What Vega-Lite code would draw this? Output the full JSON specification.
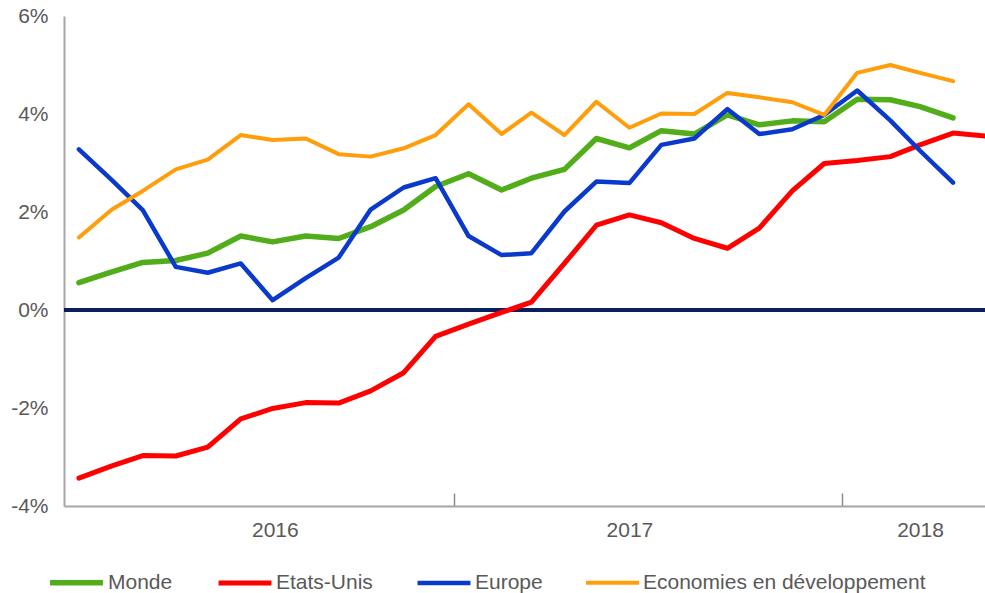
{
  "$schema": "https://vega.github.io/schema/vega-lite/v6.json",
  "width": 921,
  "height": 490,
  "autosize": {"type": "none"},
  "padding": {"left": 64, "top": 16, "right": 0, "bottom": 87},
  "config": {"view": {"stroke": null}, "font": "Liberation Sans"},
  "data": {
    "values": [
      {"date": "2016/01/15", "series": "Monde", "value": 0.56},
      {"date": "2016/02/15", "series": "Monde", "value": 0.78},
      {"date": "2016/03/15", "series": "Monde", "value": 0.97},
      {"date": "2016/04/15", "series": "Monde", "value": 1.01},
      {"date": "2016/05/15", "series": "Monde", "value": 1.16},
      {"date": "2016/06/15", "series": "Monde", "value": 1.51},
      {"date": "2016/07/15", "series": "Monde", "value": 1.39},
      {"date": "2016/08/15", "series": "Monde", "value": 1.51},
      {"date": "2016/09/15", "series": "Monde", "value": 1.46},
      {"date": "2016/10/15", "series": "Monde", "value": 1.70},
      {"date": "2016/11/15", "series": "Monde", "value": 2.04},
      {"date": "2016/12/15", "series": "Monde", "value": 2.52},
      {"date": "2017/01/15", "series": "Monde", "value": 2.78},
      {"date": "2017/02/15", "series": "Monde", "value": 2.45},
      {"date": "2017/03/15", "series": "Monde", "value": 2.69},
      {"date": "2017/04/15", "series": "Monde", "value": 2.87},
      {"date": "2017/05/15", "series": "Monde", "value": 3.50},
      {"date": "2017/06/15", "series": "Monde", "value": 3.31},
      {"date": "2017/07/15", "series": "Monde", "value": 3.66},
      {"date": "2017/08/15", "series": "Monde", "value": 3.59},
      {"date": "2017/09/15", "series": "Monde", "value": 3.98},
      {"date": "2017/10/15", "series": "Monde", "value": 3.78},
      {"date": "2017/11/15", "series": "Monde", "value": 3.86},
      {"date": "2017/12/15", "series": "Monde", "value": 3.84},
      {"date": "2018/01/15", "series": "Monde", "value": 4.30},
      {"date": "2018/02/15", "series": "Monde", "value": 4.29},
      {"date": "2018/03/15", "series": "Monde", "value": 4.15},
      {"date": "2018/04/15", "series": "Monde", "value": 3.92},
      {"date": "2016/01/15", "series": "Etats-Unis", "value": -3.43},
      {"date": "2016/02/15", "series": "Etats-Unis", "value": -3.18},
      {"date": "2016/03/15", "series": "Etats-Unis", "value": -2.97},
      {"date": "2016/04/15", "series": "Etats-Unis", "value": -2.98},
      {"date": "2016/05/15", "series": "Etats-Unis", "value": -2.80},
      {"date": "2016/06/15", "series": "Etats-Unis", "value": -2.22},
      {"date": "2016/07/15", "series": "Etats-Unis", "value": -2.01},
      {"date": "2016/08/15", "series": "Etats-Unis", "value": -1.89},
      {"date": "2016/09/15", "series": "Etats-Unis", "value": -1.90},
      {"date": "2016/10/15", "series": "Etats-Unis", "value": -1.65},
      {"date": "2016/11/15", "series": "Etats-Unis", "value": -1.28},
      {"date": "2016/12/15", "series": "Etats-Unis", "value": -0.54},
      {"date": "2017/01/15", "series": "Etats-Unis", "value": -0.29},
      {"date": "2017/02/15", "series": "Etats-Unis", "value": -0.05},
      {"date": "2017/03/15", "series": "Etats-Unis", "value": 0.16},
      {"date": "2017/04/15", "series": "Etats-Unis", "value": 0.95},
      {"date": "2017/05/15", "series": "Etats-Unis", "value": 1.73},
      {"date": "2017/06/15", "series": "Etats-Unis", "value": 1.94},
      {"date": "2017/07/15", "series": "Etats-Unis", "value": 1.78},
      {"date": "2017/08/15", "series": "Etats-Unis", "value": 1.46},
      {"date": "2017/09/15", "series": "Etats-Unis", "value": 1.26},
      {"date": "2017/10/15", "series": "Etats-Unis", "value": 1.67},
      {"date": "2017/11/15", "series": "Etats-Unis", "value": 2.43},
      {"date": "2017/12/15", "series": "Etats-Unis", "value": 2.99},
      {"date": "2018/01/15", "series": "Etats-Unis", "value": 3.05},
      {"date": "2018/02/15", "series": "Etats-Unis", "value": 3.13},
      {"date": "2018/03/15", "series": "Etats-Unis", "value": 3.37},
      {"date": "2018/04/15", "series": "Etats-Unis", "value": 3.61},
      {"date": "2018/05/15", "series": "Etats-Unis", "value": 3.55},
      {"date": "2016/01/15", "series": "Europe", "value": 3.28},
      {"date": "2016/02/15", "series": "Europe", "value": 2.65},
      {"date": "2016/03/15", "series": "Europe", "value": 2.04},
      {"date": "2016/04/15", "series": "Europe", "value": 0.88},
      {"date": "2016/05/15", "series": "Europe", "value": 0.76},
      {"date": "2016/06/15", "series": "Europe", "value": 0.95},
      {"date": "2016/07/15", "series": "Europe", "value": 0.20},
      {"date": "2016/08/15", "series": "Europe", "value": 0.65},
      {"date": "2016/09/15", "series": "Europe", "value": 1.07},
      {"date": "2016/10/15", "series": "Europe", "value": 2.05},
      {"date": "2016/11/15", "series": "Europe", "value": 2.50},
      {"date": "2016/12/15", "series": "Europe", "value": 2.69},
      {"date": "2017/01/15", "series": "Europe", "value": 1.51},
      {"date": "2017/02/15", "series": "Europe", "value": 1.12},
      {"date": "2017/03/15", "series": "Europe", "value": 1.16},
      {"date": "2017/04/15", "series": "Europe", "value": 2.01},
      {"date": "2017/05/15", "series": "Europe", "value": 2.62},
      {"date": "2017/06/15", "series": "Europe", "value": 2.59},
      {"date": "2017/07/15", "series": "Europe", "value": 3.37},
      {"date": "2017/08/15", "series": "Europe", "value": 3.50},
      {"date": "2017/09/15", "series": "Europe", "value": 4.10},
      {"date": "2017/10/15", "series": "Europe", "value": 3.59},
      {"date": "2017/11/15", "series": "Europe", "value": 3.69},
      {"date": "2017/12/15", "series": "Europe", "value": 3.98},
      {"date": "2018/01/15", "series": "Europe", "value": 4.48},
      {"date": "2018/02/15", "series": "Europe", "value": 3.87},
      {"date": "2018/03/15", "series": "Europe", "value": 3.25},
      {"date": "2018/04/15", "series": "Europe", "value": 2.60},
      {"date": "2016/01/15", "series": "Economies en développement", "value": 1.48},
      {"date": "2016/02/15", "series": "Economies en développement", "value": 2.05},
      {"date": "2016/03/15", "series": "Economies en développement", "value": 2.43},
      {"date": "2016/04/15", "series": "Economies en développement", "value": 2.87},
      {"date": "2016/05/15", "series": "Economies en développement", "value": 3.07},
      {"date": "2016/06/15", "series": "Economies en développement", "value": 3.57},
      {"date": "2016/07/15", "series": "Economies en développement", "value": 3.47},
      {"date": "2016/08/15", "series": "Economies en développement", "value": 3.50},
      {"date": "2016/09/15", "series": "Economies en développement", "value": 3.18},
      {"date": "2016/10/15", "series": "Economies en développement", "value": 3.13},
      {"date": "2016/11/15", "series": "Economies en développement", "value": 3.30},
      {"date": "2016/12/15", "series": "Economies en développement", "value": 3.57},
      {"date": "2017/01/15", "series": "Economies en développement", "value": 4.20},
      {"date": "2017/02/15", "series": "Economies en développement", "value": 3.59},
      {"date": "2017/03/15", "series": "Economies en développement", "value": 4.03},
      {"date": "2017/04/15", "series": "Economies en développement", "value": 3.57},
      {"date": "2017/05/15", "series": "Economies en développement", "value": 4.25},
      {"date": "2017/06/15", "series": "Economies en développement", "value": 3.72},
      {"date": "2017/07/15", "series": "Economies en développement", "value": 4.01},
      {"date": "2017/08/15", "series": "Economies en développement", "value": 4.00},
      {"date": "2017/09/15", "series": "Economies en développement", "value": 4.43},
      {"date": "2017/10/15", "series": "Economies en développement", "value": 4.34},
      {"date": "2017/11/15", "series": "Economies en développement", "value": 4.24},
      {"date": "2017/12/15", "series": "Economies en développement", "value": 3.98},
      {"date": "2018/01/15", "series": "Economies en développement", "value": 4.84},
      {"date": "2018/02/15", "series": "Economies en développement", "value": 5.00},
      {"date": "2018/03/15", "series": "Economies en développement", "value": 4.84},
      {"date": "2018/04/15", "series": "Economies en développement", "value": 4.67}
    ]
  },
  "layer": [
    {
      "mark": {"type": "rule", "color": "#0a1f5c", "strokeWidth": 3},
      "encoding": {"y": {"datum": 0, "type": "quantitative"}}
    },
    {
      "mark": {"type": "line", "strokeCap": "round", "strokeJoin": "round"},
      "encoding": {
        "x": {
          "field": "date",
          "type": "temporal",
          "scale": {"domain": [{"year": 2016, "month": 1, "date": 1}, {"year": 2018, "month": 5, "date": 15}]},
          "axis": {
            "values": [
              {"year": 2016, "month": 7, "date": 17},
              {"year": 2017, "month": 1, "date": 1},
              {"year": 2017, "month": 6, "date": 15},
              {"year": 2018, "month": 1, "date": 1},
              {"year": 2018, "month": 3, "date": 15}
            ],
            "title": null,
            "grid": false,
            "domainColor": "#a6a6a6",
            "domainWidth": 2,
            "tickColor": "#8c8c8c",
            "tickWidth": 1.5,
            "tickSize": -13,
            "tickOpacity": {"condition": {"test": "date(datum.value) == 1", "value": 1}, "value": 0},
            "labelExpr": "date(datum.value) == 1 ? '' : timeFormat(datum.value, '%Y')",
            "labelFontSize": 21,
            "labelColor": "#595959",
            "labelPadding": 26,
            "labelFlush": false,
            "labelOverlap": false
          }
        },
        "y": {
          "field": "value",
          "type": "quantitative",
          "scale": {"domain": [-4, 6], "nice": false, "zero": false},
          "axis": {
            "values": [-4, -2, 0, 2, 4, 6],
            "labelExpr": "datum.value + '%'",
            "title": null,
            "ticks": false,
            "domainColor": "#a6a6a6",
            "domainWidth": 2,
            "gridColor": {"condition": {"test": "datum.value == 6", "value": "#a6a6a6"}, "value": "#d9d9d9"},
            "gridWidth": 1.5,
            "labelFontSize": 21,
            "labelColor": "#595959",
            "labelPadding": 16
          }
        },
        "color": {
          "field": "series",
          "type": "nominal",
          "scale": {
            "domain": ["Monde", "Etats-Unis", "Europe", "Economies en développement"],
            "range": ["#52ad1a", "#ff0000", "#0a3acc", "#ff9d0a"]
          },
          "legend": {
            "orient": "none",
            "legendX": -17,
            "legendY": 537,
            "direction": "horizontal",
            "title": null,
            "symbolType": "stroke",
            "symbolStrokeWidth": 5,
            "symbolSize": 2800,
            "labelFontSize": 21,
            "labelColor": "#595959",
            "labelOffset": 2,
            "labelLimit": 500,
            "columnPadding": 35
          }
        },
        "strokeWidth": {
          "field": "series",
          "type": "nominal",
          "scale": {
            "domain": ["Monde", "Etats-Unis", "Europe", "Economies en développement"],
            "range": [5.5, 4, 6, 4.5]
          },
          "legend": null
        }
      }
    }
  ]
}
